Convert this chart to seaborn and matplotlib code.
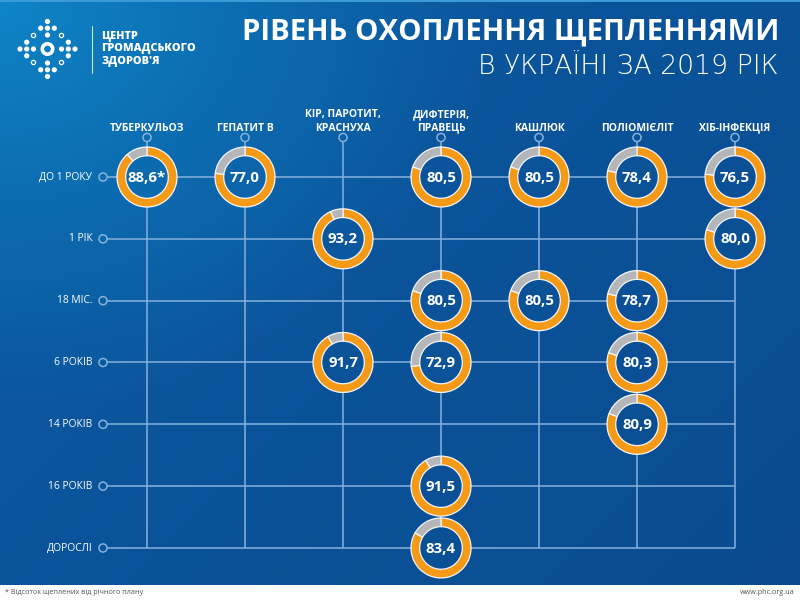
import numpy as np
import matplotlib
matplotlib.use('Agg')
import matplotlib.pyplot as plt
import seaborn as sns
from matplotlib.patches import Circle, Rectangle

# columns (vaccines) and rows (age groups)
vaccines = ['ТУБЕРКУЛЬОЗ', 'ГЕПАТИТ В', 'КІР, ПАРОТИТ,\nКРАСНУХА', 'ДИФТЕРІЯ,\nПРАВЕЦЬ',
            'КАШЛЮК', 'ПОЛІОМІЄЛІТ', 'ХІБ-ІНФЕКЦІЯ']
ages = ['ДО 1 РОКУ', '1 РІК', '18 МІС.', '6 РОКІВ', '14 РОКІВ', '16 РОКІВ', 'ДОРОСЛІ']

# coverage cells (% of the yearly plan)
cell_vaccine = ['ТУБЕРКУЛЬОЗ', 'ГЕПАТИТ В',
                'КІР, ПАРОТИТ,\nКРАСНУХА', 'КІР, ПАРОТИТ,\nКРАСНУХА',
                'ДИФТЕРІЯ,\nПРАВЕЦЬ', 'ДИФТЕРІЯ,\nПРАВЕЦЬ', 'ДИФТЕРІЯ,\nПРАВЕЦЬ',
                'ДИФТЕРІЯ,\nПРАВЕЦЬ', 'ДИФТЕРІЯ,\nПРАВЕЦЬ',
                'КАШЛЮК', 'КАШЛЮК',
                'ПОЛІОМІЄЛІТ', 'ПОЛІОМІЄЛІТ', 'ПОЛІОМІЄЛІТ', 'ПОЛІОМІЄЛІТ',
                'ХІБ-ІНФЕКЦІЯ', 'ХІБ-ІНФЕКЦІЯ']
cell_age = ['ДО 1 РОКУ', 'ДО 1 РОКУ',
            '1 РІК', '6 РОКІВ',
            'ДО 1 РОКУ', '18 МІС.', '6 РОКІВ', '16 РОКІВ', 'ДОРОСЛІ',
            'ДО 1 РОКУ', '18 МІС.',
            'ДО 1 РОКУ', '18 МІС.', '6 РОКІВ', '14 РОКІВ',
            'ДО 1 РОКУ', '1 РІК']
cell_value = [88.6, 77.0,
              93.2, 91.7,
              80.5, 80.5, 72.9, 91.5, 83.4,
              80.5, 80.5,
              78.4, 78.7, 80.3, 80.9,
              76.5, 80.0]
cell_mark = ['*'] + [''] * 16

ORANGE = '#f49a16'
GREY = '#b4b6b9'
LINE = '#86b1dc'
W, H = 800, 601

sns.set_theme(style='white')
plt.rcParams['font.family'] = ['Open Sans', 'DejaVu Sans']


def bg_color(px, py):
    light = np.array([0x0e, 0x86, 0xc8]) / 255
    mid = np.array([0x0b, 0x55, 0x9c]) / 255
    dark = np.array([0x0a, 0x4b, 0x8f]) / 255
    t = np.clip(np.hypot(px * 0.9, py * 1.1) / 450, 0, 1) ** 0.9
    u = np.clip((px + py - 500) / 900, 0, 1)
    c = light[None] * (1 - t)[..., None] + mid[None] * t[..., None]
    return c * (1 - u)[..., None] + dark[None] * u[..., None]


fig = plt.figure(figsize=(W / 100, H / 100), dpi=100)

# background layer in pixel coordinates
bg = fig.add_axes([0, 0, 1, 1])
yy, xx = np.mgrid[0:H, 0:W]
bg.imshow(bg_color(xx.astype(float), yy.astype(float)), extent=(0, W, H, 0), aspect='auto')
bg.add_patch(Rectangle((0, 0), W, 2, color='#3a9ad6', lw=0))
bg.add_patch(Rectangle((0, 585), W, 16, color='white', lw=0))
bg.set_xlim(0, W)
bg.set_ylim(H, 0)
bg.axis('off')

# logo
lx, ly = 47.5, 49
dots = []
for ang in range(4):
    c, s = np.cos(ang * np.pi / 2), np.sin(ang * np.pi / 2)
    for dx, dy in [(0, -27.5), (-6.8, -20.8), (0, -20.8), (6.8, -20.8), (0, -14)]:
        dots.append((lx + dx * c - dy * s, ly + dx * s + dy * c))
for px, py in dots:
    bg.add_patch(Circle((px, py), 2.6, color='white', lw=0))
for dx, dy in [(-14, -13.5), (14, -13.5), (-14, 13.5), (14, 13.5)]:
    bg.add_patch(Circle((lx + dx, ly + dy), 2.1, fc='none', ec='white', lw=0.9))
bg.add_patch(Circle((lx, ly), 5.2, fc='none', ec='white', lw=2.6))
bg.plot([92, 92], [26, 73], color='white', lw=0.8, alpha=0.8)
bg.text(101, 49, 'ЦЕНТР\nГРОМАДСЬКОГО\nЗДОРОВ\'Я', color='white', fontsize=7.8,
        fontweight='heavy', ha='left', va='center', linespacing=1.2, fontstretch='condensed')

# titles
bg.text(779, 32, 'РІВЕНЬ ОХОПЛЕННЯ ЩЕПЛЕННЯМИ', color='white', fontsize=21.2,
        fontweight='bold', ha='right', va='center')
bg.text(779, 66, 'В УКРАЇНІ ЗА 2019 РІК', color='white', fontsize=19.2,
        fontweight='light', ha='right', va='center', family=['DejaVu Sans'])

# footer
bg.text(5, 593, '* Відсоток щеплених від річного плану', color='#555555', fontsize=5.2,
        ha='left', va='center')
bg.text(795, 593, 'www.phc.org.ua', color='#555555', fontsize=5.2, ha='right', va='center')

# grid layer: column index on x, row index on y
ax = fig.add_axes([0, 0, 1, 1])
ax.patch.set_alpha(0)
ax.set_xlim(-1.5, 6.663)
ax.set_ylim(6.858, -2.863)
ax.axis('off')

n_col, n_row = len(vaccines), len(ages)
col_marker_y = -0.639
row_marker_x = -0.449
ax.vlines(range(n_col), col_marker_y + 0.06, n_row - 1, color=LINE, lw=1.1)
ax.hlines(range(n_row), row_marker_x + 0.037, n_col - 1, color=LINE, lw=1.1)

sns.scatterplot(x=list(range(n_col)), y=[col_marker_y] * n_col, ax=ax, s=34,
                facecolor='none', edgecolor=LINE, linewidth=1.1, zorder=3)
sns.scatterplot(x=[row_marker_x] * n_row, y=list(range(n_row)), ax=ax, s=34,
                facecolor='none', edgecolor=LINE, linewidth=1.1, zorder=3)
ax.set_xlim(-1.5, 6.663)
ax.set_ylim(6.858, -2.863)

for i, name in enumerate(vaccines):
    ax.text(i, -0.70, name, color='white', fontsize=7.5, fontweight='bold',
            ha='center', va='bottom', linespacing=1.3)
for j, name in enumerate(ages):
    ax.text(-0.557, j, name, color='white', fontsize=7.4, ha='right', va='center')

# donuts
R, RING, PAD = 30, 8.7, 1.06
for v, a, val, mark in zip(cell_vaccine, cell_age, cell_value, cell_mark):
    cx, cy = ax.transData.transform((vaccines.index(v), ages.index(a)))
    s = R * PAD
    pax = fig.add_axes([(cx - s) / W, (cy - s) / H, 2 * s / W, 2 * s / H])
    hole = bg_color(np.array(cx), np.array(H - cy))
    pax.add_patch(Circle((0, 0), 1 - RING / R, facecolor=hole, lw=0, zorder=0))
    pax.pie([val, 100 - val], colors=[ORANGE, GREY], startangle=90, counterclock=False,
            radius=1, wedgeprops=dict(width=RING / R, edgecolor='#f4f6f8', linewidth=0.9))
    pax.text(0, -0.02, f'{val:.1f}'.replace('.', ',') + mark, color='white', fontsize=10.8,
             fontweight='bold', ha='center', va='center')
    pax.set_xlim(-PAD, PAD)
    pax.set_ylim(-PAD, PAD)
    pax.set_aspect('equal')
    pax.axis('off')

fig.savefig('out.png', dpi=100)
